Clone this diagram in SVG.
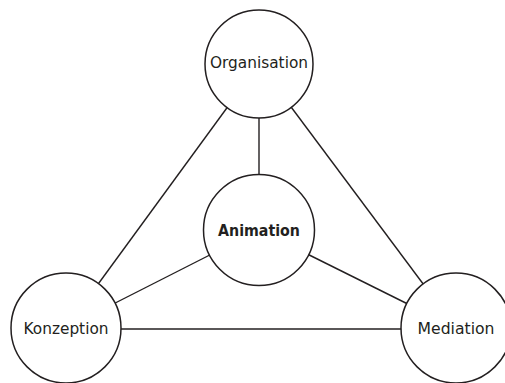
<svg xmlns="http://www.w3.org/2000/svg" width="505" height="383" viewBox="0 0 505 383">
<style>
.c{fill:#fff;stroke:#231f20;stroke-width:1.5}
.l{stroke:#231f20;stroke-width:1.4;fill:none}
.t{font-family:"DejaVu Sans","Liberation Sans",sans-serif;font-size:15px;fill:#231f20;text-anchor:middle}
.b{font-weight:bold}
</style>
<rect width="505" height="383" fill="#fff"/>
<g id="connectors">
<line class="l" x1="259" y1="64" x2="259" y2="230"/>
<line class="l" x1="259" y1="64" x2="66" y2="328"/>
<line class="l" x1="259" y1="64" x2="456" y2="328"/>
<line class="l" x1="259" y1="230" x2="66" y2="328"/>
<line class="l" x1="259" y1="230" x2="456" y2="328"/>
<line class="l" x1="66" y1="329" x2="456" y2="329"/>
</g>
<g id="organisation">
<circle class="c" cx="259" cy="64" r="54"/>
<text class="t" x="259" y="68" textLength="98" lengthAdjust="spacingAndGlyphs">Organisation</text>
</g>
<g id="animation">
<circle class="c" cx="259" cy="230" r="55.5"/>
<text class="t b" x="259" y="236" textLength="82" lengthAdjust="spacingAndGlyphs">Animation</text>
</g>
<g id="konzeption">
<circle class="c" cx="66" cy="328" r="55"/>
<text class="t" x="66" y="334" textLength="85" lengthAdjust="spacingAndGlyphs">Konzeption</text>
</g>
<g id="mediation">
<circle class="c" cx="456" cy="328" r="55"/>
<text class="t" x="456" y="334" textLength="77" lengthAdjust="spacingAndGlyphs">Mediation</text>
</g>
</svg>
